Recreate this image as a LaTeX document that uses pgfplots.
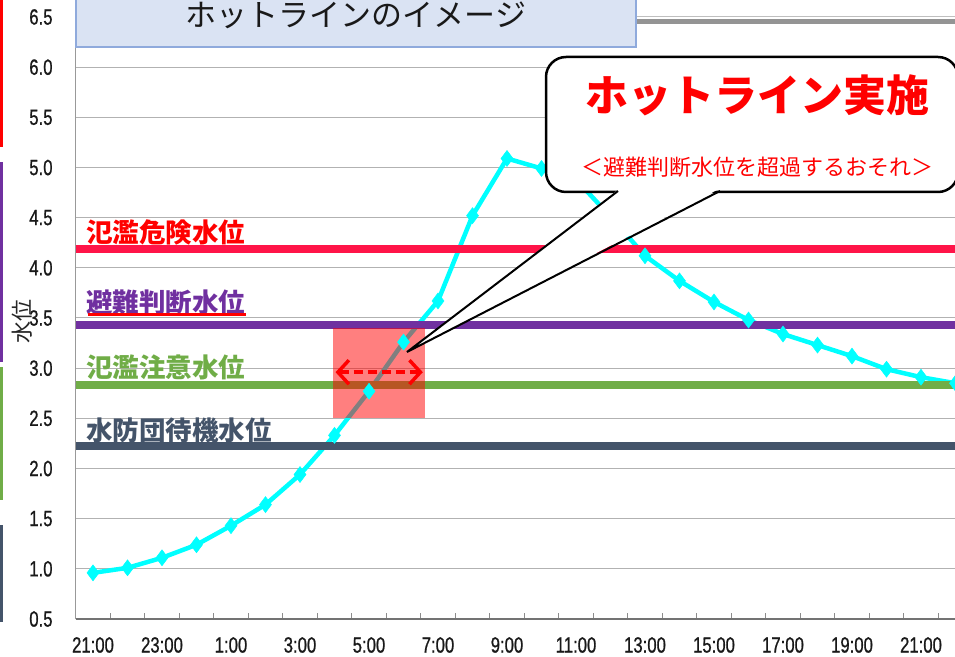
\documentclass[border=0pt]{standalone}
\usepackage{pgfplots}
\pgfplotsset{compat=1.18}
\usepackage{fontspec}
\setmainfont[FakeStretch=0.76,FakeBold=0.8]{Liberation Sans}
\newfontfamily\jp{Noto Sans CJK JP}
\usetikzlibrary{arrows.meta}
\definecolor{lvred}{HTML}{FF1448}
\definecolor{lvpurple}{HTML}{7030A0}
\definecolor{lvgreen}{HTML}{70AD47}
\definecolor{lvnavy}{HTML}{44546A}
\definecolor{boxfill}{HTML}{DAE3F3}
\definecolor{boxdraw}{HTML}{8FAADC}
\definecolor{wl}{HTML}{00FFFF}
\begin{document}
\begin{tikzpicture}
\path[use as bounding box] (0pt,0pt) rectangle (955pt,656pt);
\clip (0pt,0pt) rectangle (955pt,656pt);
\begin{axis}[
  at={(75.75pt,37pt)}, anchor=south west,
  scale only axis, width=897pt, height=602pt,
  xmin=-0.5, xmax=25.5, ymin=0.5, ymax=6.5,
  axis x line*=bottom, axis y line*=left,
  x axis line style={black!55, line width=1.2pt},
  y axis line style={black!40, line width=1.2pt},
  ytick={0.5,1.0,...,6.5},
  xtick={0,2,...,24},
  xticklabels={21:00,23:00,1:00,3:00,5:00,7:00,9:00,11:00,13:00,15:00,17:00,19:00,21:00},
  minor xtick={-0.5,0.5,...,25.5},
  major tick length=0pt, minor tick length=6pt, tick align=inside,
  minor tick style={black!45, line width=0.8pt},
  ymajorgrids, grid style={black!30, line width=1pt},
  /pgf/number format/assume math mode=true,
  tick label style={font=\fontsize{22}{22}\selectfont, text=black!90, inner sep=0pt},
  yticklabel style={/pgf/number format/.cd, fixed, fixed zerofill, precision=1, /tikz/.cd, anchor=east, xshift=-23pt},
  xticklabel style={anchor=north, yshift=-18pt},
]
\addplot[wl, line width=4.5pt, mark=diamond*, mark size=8pt,
  mark options={solid, fill=wl, draw=wl, line width=0.5pt}] coordinates {
(0,0.96) (1,1.01) (2,1.11) (3,1.24) (4,1.43) (5,1.64) (6,1.94) (7,2.33)
(8,2.77) (9,3.26) (10,3.67) (11,4.52) (12,5.09) (13,4.99) (14,4.88) (15,4.51)
(16,4.12) (17,3.87) (18,3.66) (19,3.48) (20,3.34) (21,3.23) (22,3.12) (23,2.99)
(24,2.91) (25,2.85)};
\addplot[lvred, line width=8pt, no marks] coordinates {(-0.5,4.19) (25.5,4.19)};
\addplot[lvpurple, line width=8pt, no marks] coordinates {(-0.5,3.43) (25.5,3.43)};
\addplot[lvgreen, line width=8pt, no marks] coordinates {(-0.5,2.83) (25.5,2.83)};
\addplot[lvnavy, line width=8pt, no marks] coordinates {(-0.5,2.22) (25.5,2.22)};
\fill[red, opacity=0.5] (axis cs:6.96,2.5) rectangle (axis cs:9.62,3.4);
\draw[red, line width=3.5pt, dash pattern=on 9pt off 5pt,
  {Straight Barb[length=11pt,width=24pt]}-{Straight Barb[length=11pt,width=24pt]}]
  (axis cs:7.03,2.96) -- (axis cs:9.56,2.96);
\end{axis}
% top border of plot area
\draw[black!25, line width=1pt] (76pt,639pt) -- (960pt,639pt);
\draw[black!42, line width=5pt] (76pt,634.5pt) -- (960pt,634.5pt);
% left edge bars
\fill[red] (0pt,509pt) rectangle (2.5pt,660pt);
\fill[lvpurple] (0pt,294pt) rectangle (3pt,494pt);
\fill[lvgreen] (0pt,156pt) rectangle (3pt,289pt);
\fill[lvnavy] (0pt,34pt) rectangle (3pt,131pt);
% y label
\node[rotate=90, font=\jp\fontsize{22}{22}\selectfont, text=black!85] at (22pt,334pt) {水位};
% level labels
\node[anchor=west, inner sep=0pt, font=\jp\bfseries\fontsize{26.5}{26.5}\selectfont, text=red] at (86pt,424pt) {氾濫危険水位};
\node[anchor=west, inner sep=0pt, font=\jp\bfseries\fontsize{26.5}{26.5}\selectfont, text=lvpurple] at (86pt,354pt) {避難判断水位};
\draw[red, line width=3pt] (88pt,341pt) -- (246pt,341pt);
\node[anchor=west, inner sep=0pt, font=\jp\bfseries\fontsize{26.5}{26.5}\selectfont, text=lvgreen] at (86pt,289pt) {氾濫注意水位};
\node[anchor=west, inner sep=0pt, font=\jp\bfseries\fontsize{26.5}{26.5}\selectfont, text=lvnavy] at (86pt,226pt) {水防団待機水位};
% callout
\draw[black, line width=2.5pt, fill=white, rounded corners=20pt] (546pt,464pt) rectangle (958pt,599pt);
\fill[white] (619pt,467pt) -- (719pt,467pt) -- (407pt,304pt) -- cycle;
\draw[black, line width=2pt, line join=miter] (618pt,465pt) -- (407pt,304pt) -- (720pt,465pt);
\node[font=\jp\bfseries\fontsize{43}{43}\selectfont, text=red] at (757pt,561pt) {ホットライン実施};
\node[font=\jp\fontsize{22}{22}\selectfont, text=red] at (757pt,489pt) {＜避難判断水位を超過するおそれ＞};
% title box
\draw[boxdraw, line width=1.5pt, fill=boxfill] (76pt,609pt) rectangle (636pt,680pt);
\node[font=\jp\fontsize{31}{31}\selectfont, text=black!90] at (356pt,641pt) {ホットラインのイメージ};
\end{tikzpicture}
\end{document}
